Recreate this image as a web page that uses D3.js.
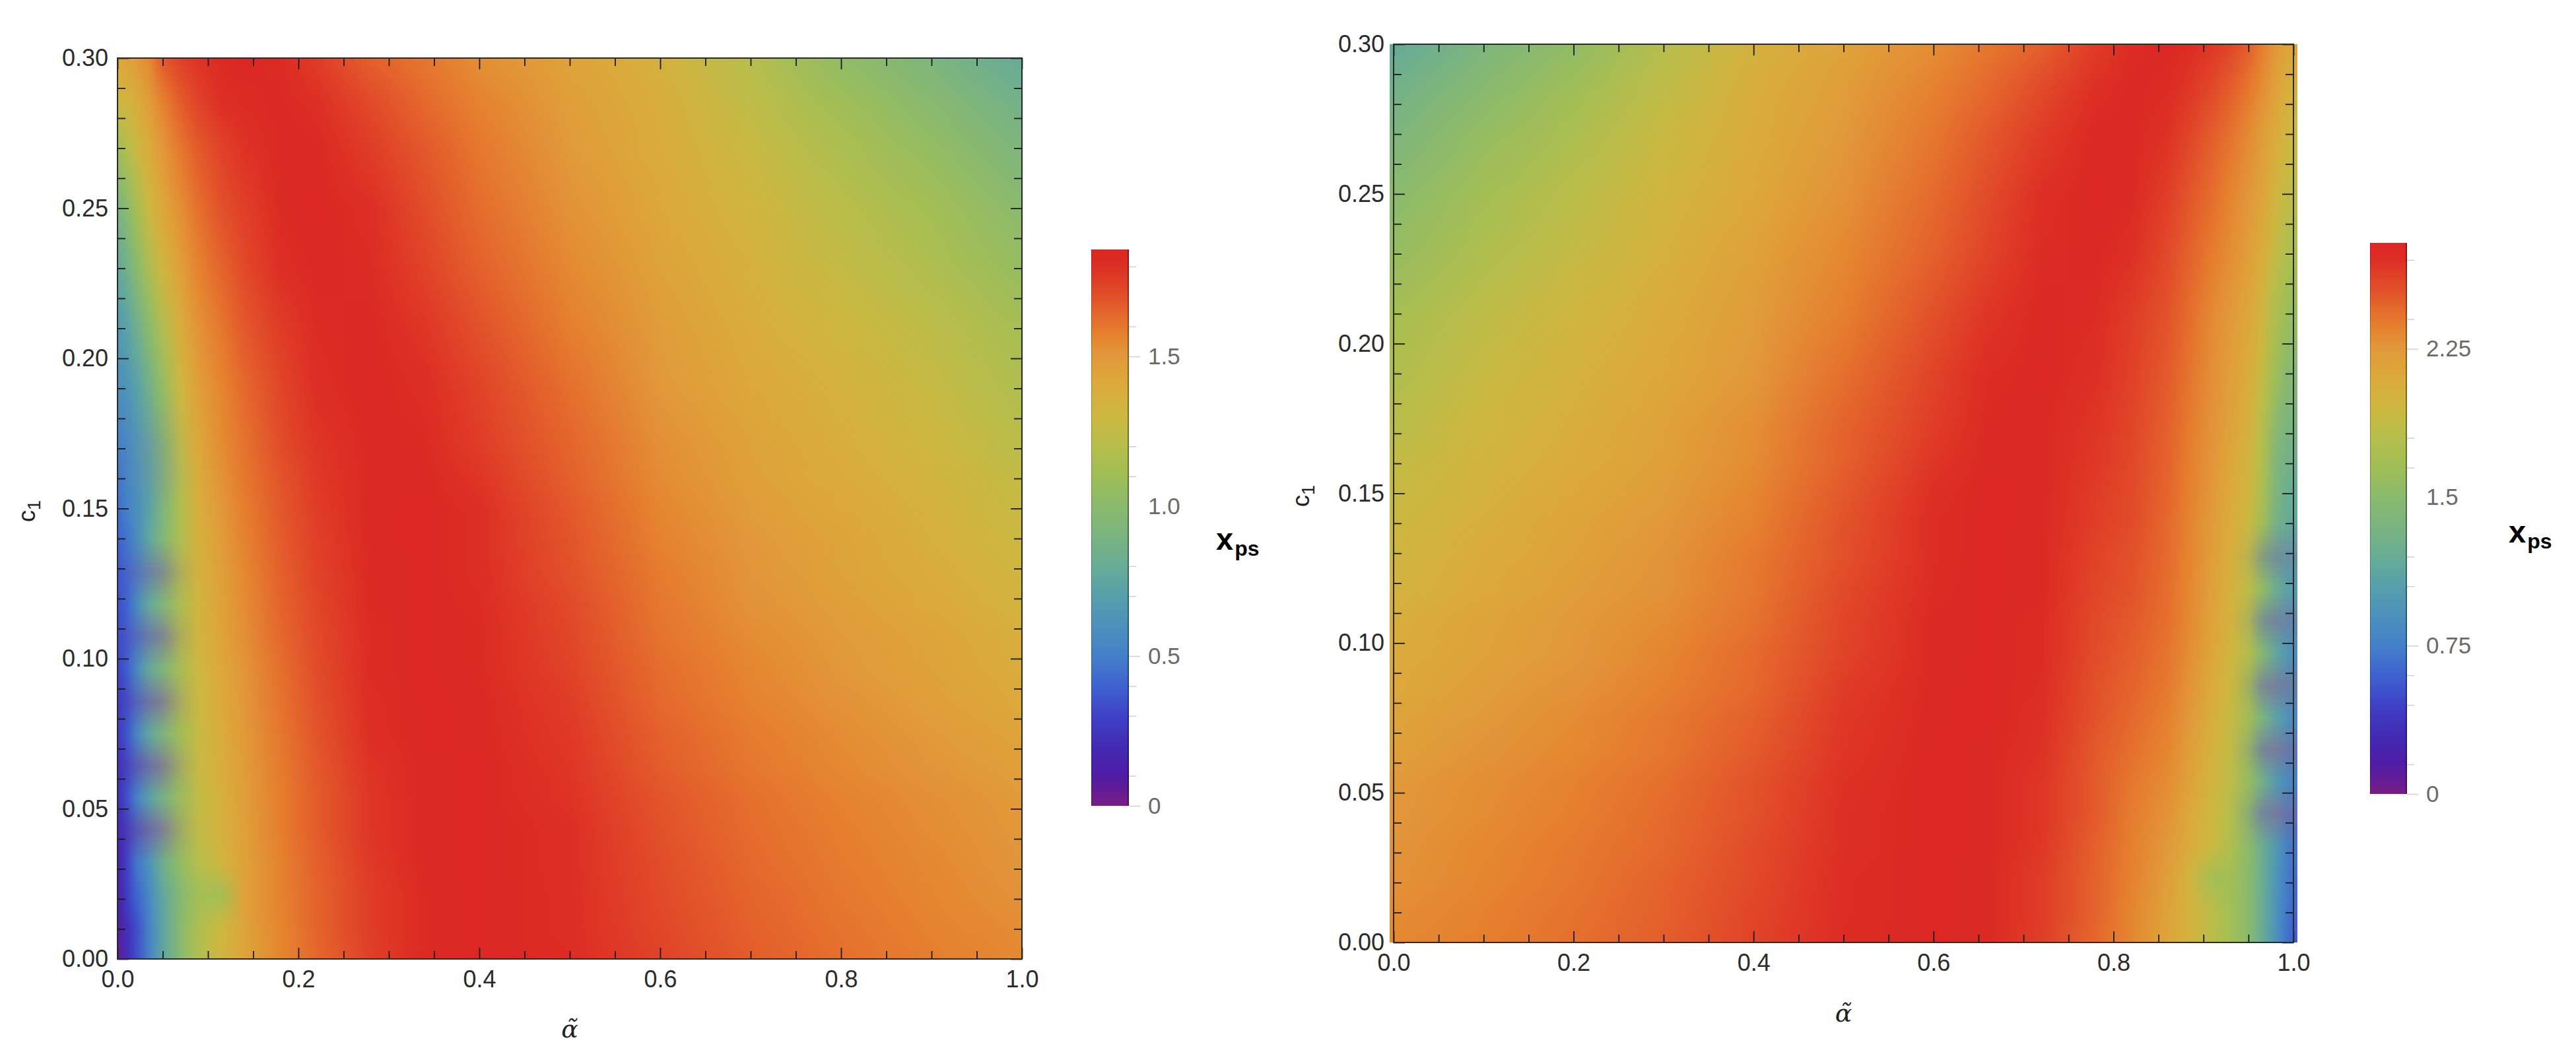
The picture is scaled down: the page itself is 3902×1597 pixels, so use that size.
<!DOCTYPE html>
<html>
<head>
<meta charset="utf-8">
<script src="https://cdnjs.cloudflare.com/ajax/libs/d3/7.8.5/d3.min.js"></script>
<style>
  html, body { margin: 0; padding: 0; background: #fff; }
  svg { display: block; font-family: "Liberation Sans", sans-serif; }
</style>
</head>
<body>
<div id="chart"></div>
<script>
// colour bar: fraction of the range -> colour
const rainbowStops = [0, .054, .10, .16, .215, .27, .34, .38, .43, .48, .54, .595, .645, .70, .76, .81, .84, .88, .915, .97, 1];
const rainbowColors = ['#781c86', '#4e1ca5', '#4428b2', '#3e40c6', '#3f62d0', '#4480c8', '#4f95b8', '#58a0aa', '#68ac96', '#78b382',
  '#8aba6d', '#a0be55', '#b5be4c', '#cdb840', '#dca93a', '#e2973a', '#e5862f', '#e56a2d', '#e2502a', '#dd2e25', '#dc2622'];

const xMajor = [0, .2, .4, .6, .8, 1];
const xMinor = [.05, .1, .15, .25, .3, .35, .45, .5, .55, .65, .7, .75, .85, .9, .95];
const yMajor = [0, .05, .1, .15, .2, .25, .3];
const yMinor = d3.range(1, 30).filter(i => i % 5).map(i => i / 100);

// left panel
const leftMax = 1.857;
const leftBarLabels = [0, .5, 1, 1.5];
const leftBarMinor = [.1, .3, .4, .7, .8, 1.1, 1.2, 1.6, 1.8];
const leftX = [0, .01, .02, .035, .05, .07, .09, .115, .14, .18, .22, .28, .34, .4, .5, .6, .7, .8, .9, 1];
const leftC1 = [0, .0102, .0214, .032, .0431, .0536, .0642, .075, .0856, .0965, .1074, .118, .1285, .14, .15, .161, .171, .19, .21, .23, .25, .27, .285, .3];
const leftValues = [
  [.03, .2, .33, .52, .75, 1, 1.18, 1.32, 1.43, 1.56, 1.64, 1.75, 1.83, 1.85, 1.82, 1.74, 1.67, 1.62, 1.58, 1.55],
  [.08, .22, .32, .52, .74, 1, 1.17, 1.3, 1.44, 1.56, 1.65, 1.76, 1.83, 1.85, 1.81, 1.73, 1.66, 1.61, 1.57, 1.54],
  [.1, .28, .4, .55, .76, .98, 1.12, 1.12, 1.45, 1.57, 1.65, 1.76, 1.83, 1.85, 1.81, 1.72, 1.65, 1.6, 1.56, 1.52],
  [.14, .28, .46, .62, .84, 1.05, 1.2, 1.33, 1.45, 1.57, 1.66, 1.77, 1.84, 1.85, 1.8, 1.71, 1.64, 1.59, 1.55, 1.51],
  [.16, .24, .3, .35, .55, 1.12, 1.25, 1.35, 1.46, 1.58, 1.67, 1.78, 1.84, 1.85, 1.8, 1.7, 1.63, 1.58, 1.54, 1.5],
  [.2, .34, .5, .72, .88, 1.08, 1.25, 1.37, 1.47, 1.58, 1.67, 1.78, 1.84, 1.85, 1.79, 1.69, 1.62, 1.57, 1.53, 1.49],
  [.22, .28, .32, .38, .6, 1.15, 1.28, 1.38, 1.48, 1.59, 1.68, 1.79, 1.84, 1.85, 1.78, 1.67, 1.6, 1.55, 1.51, 1.46],
  [.25, .36, .52, .76, .92, 1.12, 1.27, 1.4, 1.49, 1.6, 1.69, 1.8, 1.85, 1.84, 1.77, 1.66, 1.59, 1.54, 1.49, 1.44],
  [.27, .31, .36, .42, .65, 1.18, 1.3, 1.41, 1.5, 1.61, 1.7, 1.81, 1.85, 1.84, 1.76, 1.64, 1.57, 1.52, 1.47, 1.41],
  [.3, .38, .54, .78, .94, 1.14, 1.3, 1.42, 1.51, 1.62, 1.71, 1.82, 1.85, 1.83, 1.74, 1.63, 1.56, 1.5, 1.45, 1.39],
  [.32, .36, .4, .48, .7, 1.2, 1.33, 1.44, 1.53, 1.64, 1.72, 1.82, 1.85, 1.83, 1.73, 1.61, 1.54, 1.49, 1.44, 1.37],
  [.34, .4, .55, .78, .95, 1.16, 1.33, 1.45, 1.54, 1.65, 1.73, 1.83, 1.85, 1.82, 1.72, 1.6, 1.52, 1.47, 1.41, 1.34],
  [.36, .4, .44, .55, .78, 1.2, 1.35, 1.46, 1.55, 1.66, 1.74, 1.83, 1.85, 1.81, 1.7, 1.59, 1.51, 1.45, 1.39, 1.32],
  [.4, .46, .56, .76, .95, 1.18, 1.36, 1.48, 1.57, 1.67, 1.75, 1.84, 1.85, 1.81, 1.69, 1.57, 1.5, 1.44, 1.37, 1.29],
  [.44, .5, .58, .72, .92, 1.18, 1.38, 1.5, 1.58, 1.68, 1.76, 1.84, 1.85, 1.8, 1.68, 1.56, 1.48, 1.42, 1.35, 1.27],
  [.46, .52, .6, .72, .92, 1.2, 1.4, 1.52, 1.6, 1.69, 1.77, 1.84, 1.84, 1.78, 1.66, 1.54, 1.46, 1.4, 1.33, 1.25],
  [.5, .54, .62, .74, .95, 1.24, 1.42, 1.54, 1.61, 1.71, 1.78, 1.84, 1.83, 1.76, 1.65, 1.53, 1.45, 1.38, 1.31, 1.22],
  [.58, .62, .7, .85, 1.05, 1.3, 1.47, 1.56, 1.64, 1.73, 1.8, 1.85, 1.81, 1.74, 1.62, 1.5, 1.42, 1.35, 1.27, 1.17],
  [.66, .72, .82, 1, 1.18, 1.38, 1.52, 1.6, 1.68, 1.76, 1.82, 1.84, 1.78, 1.7, 1.58, 1.48, 1.39, 1.31, 1.23, 1.13],
  [.76, .85, .98, 1.15, 1.32, 1.46, 1.57, 1.65, 1.72, 1.8, 1.84, 1.82, 1.74, 1.66, 1.55, 1.45, 1.36, 1.26, 1.17, 1.06],
  [.9, 1, 1.12, 1.3, 1.42, 1.53, 1.62, 1.7, 1.75, 1.83, 1.85, 1.8, 1.71, 1.63, 1.52, 1.42, 1.32, 1.22, 1.12, 1],
  [1.1, 1.18, 1.28, 1.4, 1.5, 1.6, 1.68, 1.74, 1.79, 1.84, 1.84, 1.76, 1.68, 1.6, 1.49, 1.4, 1.28, 1.16, 1.05, .92],
  [1.3, 1.32, 1.38, 1.47, 1.57, 1.67, 1.74, 1.8, 1.82, 1.84, 1.8, 1.72, 1.64, 1.57, 1.47, 1.38, 1.24, 1.1, .99, .86],
  [1.42, 1.45, 1.48, 1.55, 1.68, 1.75, 1.79, 1.83, 1.85, 1.82, 1.76, 1.66, 1.6, 1.53, 1.44, 1.35, 1.2, 1.03, .92, .78]
];
// the greyish notches near the edge: how much each row and column goes to grey
const leftNotchRows = [0, 0, 0, 0, 1, 0, 1, 0, 1, 0, .9, 0, .8, 0, 0, .25, .25, 0, 0, 0, 0, 0, 0, 0];
const leftNotchCols = [0, .1, .3, .6, .8, .3, 0, 0, 0, 0, 0, 0, 0, 0, 0, 0, 0, 0, 0, 0];

// right panel
const rightMax = 2.786;
const rightBarLabels = [0, .75, 1.5, 2.25];
const rightBarMinor = [.15, .45, .6, 1.05, 1.2, 1.65, 1.8, 2.4, 2.7];
const rightX = [0, .1, .2, .3, .4, .5, .6, .66, .72, .78, .82, .86, .885, .91, .93, .95, .965, .98, .99, 1];
const rightC1 = [0, .0102, .0214, .032, .0431, .0536, .0642, .075, .0856, .0965, .1074, .118, .1285, .14, .15, .161, .171, .19, .21, .23, .25, .27, .285, .3];
const rightValues = [
  [2.33, 2.37, 2.43, 2.5, 2.61, 2.73, 2.78, 2.75, 2.63, 2.46, 2.34, 2.15, 2.02, 1.83, 1.68, 1.5, 1.2, .92, .72, .58],
  [2.31, 2.36, 2.42, 2.49, 2.6, 2.72, 2.78, 2.75, 2.64, 2.48, 2.34, 2.17, 2.03, 1.84, 1.68, 1.5, 1.22, .94, .75, .62],
  [2.28, 2.34, 2.4, 2.48, 2.58, 2.72, 2.78, 2.75, 2.64, 2.48, 2.36, 2.2, 1.98, 1.68, 1.66, 1.5, 1.24, .96, .78, .66],
  [2.27, 2.33, 2.39, 2.46, 2.57, 2.7, 2.78, 2.76, 2.66, 2.49, 2.37, 2.24, 2.1, 1.93, 1.76, 1.52, 1.24, 1, .82, .7],
  [2.25, 2.31, 2.37, 2.45, 2.55, 2.7, 2.78, 2.76, 2.67, 2.51, 2.38, 2.28, 2.12, 1.95, 1.8, 1.5, .95, .75, .65, .62],
  [2.24, 2.3, 2.36, 2.43, 2.54, 2.69, 2.78, 2.76, 2.67, 2.51, 2.4, 2.31, 2.17, 2, 1.84, 1.6, 1.3, 1.02, .9, .78],
  [2.19, 2.27, 2.33, 2.4, 2.51, 2.67, 2.78, 2.76, 2.69, 2.52, 2.43, 2.34, 2.2, 2.02, 1.88, 1.58, 1, .8, .7, .68],
  [2.16, 2.24, 2.31, 2.39, 2.49, 2.66, 2.76, 2.78, 2.7, 2.54, 2.46, 2.36, 2.24, 2.06, 1.9, 1.68, 1.38, 1.1, .98, .85],
  [2.12, 2.21, 2.28, 2.36, 2.46, 2.64, 2.76, 2.78, 2.72, 2.55, 2.48, 2.39, 2.27, 2.1, 1.95, 1.68, 1.08, .85, .78, .75],
  [2.09, 2.18, 2.25, 2.34, 2.45, 2.61, 2.75, 2.78, 2.73, 2.57, 2.5, 2.41, 2.3, 2.14, 1.98, 1.78, 1.48, 1.15, 1.02, .9],
  [2.06, 2.16, 2.24, 2.31, 2.42, 2.6, 2.75, 2.78, 2.73, 2.58, 2.52, 2.43, 2.32, 2.16, 2.02, 1.8, 1.18, .95, .88, .85],
  [2.01, 2.12, 2.21, 2.28, 2.4, 2.58, 2.73, 2.78, 2.75, 2.6, 2.54, 2.44, 2.33, 2.18, 2.04, 1.84, 1.58, 1.25, 1.12, 1.02],
  [1.98, 2.09, 2.18, 2.27, 2.39, 2.55, 2.72, 2.78, 2.75, 2.61, 2.55, 2.45, 2.34, 2.2, 2.06, 1.88, 1.4, 1.1, 1.02, .98],
  [1.94, 2.06, 2.16, 2.25, 2.36, 2.54, 2.72, 2.78, 2.76, 2.63, 2.57, 2.46, 2.35, 2.22, 2.1, 1.92, 1.68, 1.32, 1.22, 1.15],
  [1.91, 2.03, 2.13, 2.22, 2.34, 2.52, 2.7, 2.78, 2.76, 2.64, 2.58, 2.47, 2.36, 2.25, 2.12, 1.98, 1.75, 1.38, 1.27, 1.2],
  [1.88, 2, 2.1, 2.19, 2.31, 2.49, 2.67, 2.76, 2.76, 2.66, 2.59, 2.48, 2.37, 2.26, 2.14, 2, 1.78, 1.42, 1.32, 1.26],
  [1.83, 1.97, 2.07, 2.18, 2.3, 2.48, 2.64, 2.75, 2.76, 2.67, 2.6, 2.49, 2.38, 2.27, 2.17, 2.03, 1.82, 1.5, 1.38, 1.32],
  [1.76, 1.91, 2.03, 2.13, 2.25, 2.43, 2.61, 2.72, 2.78, 2.7, 2.62, 2.51, 2.41, 2.29, 2.2, 2.1, 1.9, 1.65, 1.52, 1.45],
  [1.7, 1.85, 1.97, 2.09, 2.22, 2.37, 2.55, 2.67, 2.76, 2.73, 2.64, 2.54, 2.44, 2.32, 2.24, 2.14, 1.98, 1.75, 1.65, 1.58],
  [1.59, 1.76, 1.89, 2.04, 2.18, 2.33, 2.49, 2.61, 2.73, 2.76, 2.7, 2.58, 2.48, 2.38, 2.3, 2.2, 2.08, 1.88, 1.78, 1.72],
  [1.5, 1.68, 1.83, 1.98, 2.13, 2.28, 2.45, 2.57, 2.7, 2.78, 2.75, 2.63, 2.53, 2.44, 2.35, 2.26, 2.16, 2, 1.9, 1.85],
  [1.38, 1.58, 1.74, 1.92, 2.1, 2.24, 2.4, 2.52, 2.64, 2.76, 2.76, 2.69, 2.6, 2.5, 2.42, 2.32, 2.22, 2.1, 2, 1.95],
  [1.29, 1.49, 1.65, 1.86, 2.07, 2.21, 2.36, 2.46, 2.58, 2.7, 2.76, 2.73, 2.66, 2.58, 2.5, 2.4, 2.3, 2.18, 2.08, 2.05],
  [1.17, 1.38, 1.55, 1.8, 2.03, 2.16, 2.3, 2.4, 2.49, 2.64, 2.73, 2.78, 2.72, 2.66, 2.6, 2.5, 2.38, 2.25, 2.18, 2.15]
];
const rightNotchRows = [0, 0, 0, 0, 1, 0, 1, 0, 1, 0, .85, 0, .7, 0, 0, 0, 0, 0, 0, 0, 0, 0, 0, 0];
const rightNotchCols = [0, 0, 0, 0, 0, 0, 0, 0, 0, 0, 0, 0, 0, 0, 0, .2, .6, .7, .55, .45];

const width = 3902;
const height = 1597;
const notchGrey = '#8c7a88';

const svg = d3.select('#chart').append('svg')
  .attr('width', width)
  .attr('height', height);
const defs = svg.append('defs');

// paints the value grid into a canvas. colours are worked out on the grid nodes
// and blended between them, same way the notches go grey in the original
const fieldImage = (xs, ys, values, notchRows, notchCols, color, x, y, x0, x1) => {
  const iOf = d3.scaleLinear().domain(xs).range(d3.range(xs.length)).clamp(true);
  const jOf = d3.scaleLinear().domain(ys).range(d3.range(ys.length)).clamp(true);
  const nodes = values.map((row, j) => row.map((v, i) =>
    d3.rgb(d3.interpolateRgb(color(v), notchGrey)(notchRows[j] * notchCols[i]))));

  const [yBottom, yTop] = y.range();
  const w = x1 - x0;
  const h = yBottom - yTop;
  const canvas = document.createElement('canvas');
  canvas.width = w;
  canvas.height = h;
  const ctx = canvas.getContext('2d');
  const img = ctx.createImageData(w, h);
  for (let py = 0; py < h; py++) {
    const jf = jOf(y.invert(yTop + py + .5));
    const j = Math.min(Math.floor(jf), ys.length - 2);
    const tj = jf - j;
    for (let px = 0; px < w; px++) {
      const fi = iOf(x.invert(x0 + px + .5));
      const i = Math.min(Math.floor(fi), xs.length - 2);
      const ti = fi - i;
      const a = nodes[j][i], b = nodes[j][i + 1], c = nodes[j + 1][i], d = nodes[j + 1][i + 1];
      const k = (py * w + px) * 4;
      img.data[k] = (a.r * (1 - ti) + b.r * ti) * (1 - tj) + (c.r * (1 - ti) + d.r * ti) * tj;
      img.data[k + 1] = (a.g * (1 - ti) + b.g * ti) * (1 - tj) + (c.g * (1 - ti) + d.g * ti) * tj;
      img.data[k + 2] = (a.b * (1 - ti) + b.b * ti) * (1 - tj) + (c.b * (1 - ti) + d.b * ti) * tj;
      img.data[k + 3] = 255;
    }
  }
  ctx.putImageData(img, 0, 0);
  // soften the kinks along the grid lines a little
  const out = document.createElement('canvas');
  out.width = w;
  out.height = h;
  const outCtx = out.getContext('2d');
  outCtx.drawImage(canvas, 0, 0);
  outCtx.filter = 'blur(3px)';
  outCtx.drawImage(canvas, 0, 0);
  return out.toDataURL();
};

const styleAxis = (g, fontSize) => {
  g.select('.domain').remove();
  g.selectAll('line').attr('stroke', '#1a1a1a').attr('stroke-width', 1.8);
  g.selectAll('text').attr('font-size', fontSize).attr('fill', '#2b2b2b');
  g.attr('font-family', null);
};

const addAxes = (g, x, y, plot) => {
  const { left, right, top, bottom } = plot;
  const majorLen = 17;
  const minorLen = 12;
  const xFmt = d => d3.format('.1f')(d);
  const yFmt = d => d3.format('.2f')(d);

  g.append('g').attr('transform', `translate(0,${bottom})`)
    .call(d3.axisBottom(x).tickValues(xMajor).tickSizeInner(-majorLen).tickSizeOuter(0).tickPadding(17).tickFormat(xFmt))
    .call(styleAxis, 36);
  g.append('g').attr('transform', `translate(0,${bottom})`)
    .call(d3.axisBottom(x).tickValues(xMinor).tickSizeInner(-minorLen).tickSizeOuter(0).tickFormat(''))
    .call(styleAxis, 36);
  g.append('g').attr('transform', `translate(0,${top})`)
    .call(d3.axisTop(x).tickValues(xMajor).tickSizeInner(-majorLen).tickSizeOuter(0).tickFormat(''))
    .call(styleAxis, 36);
  g.append('g').attr('transform', `translate(0,${top})`)
    .call(d3.axisTop(x).tickValues(xMinor).tickSizeInner(-minorLen).tickSizeOuter(0).tickFormat(''))
    .call(styleAxis, 36);

  g.append('g').attr('transform', `translate(${left},0)`)
    .call(d3.axisLeft(y).tickValues(yMajor).tickSizeInner(-majorLen).tickSizeOuter(0).tickPadding(14).tickFormat(yFmt))
    .call(styleAxis, 36);
  g.append('g').attr('transform', `translate(${left},0)`)
    .call(d3.axisLeft(y).tickValues(yMinor).tickSizeInner(-minorLen).tickSizeOuter(0).tickFormat(''))
    .call(styleAxis, 36);
  g.append('g').attr('transform', `translate(${right},0)`)
    .call(d3.axisRight(y).tickValues(yMajor).tickSizeInner(-majorLen).tickSizeOuter(0).tickFormat(''))
    .call(styleAxis, 36);
  g.append('g').attr('transform', `translate(${right},0)`)
    .call(d3.axisRight(y).tickValues(yMinor).tickSizeInner(-minorLen).tickSizeOuter(0).tickFormat(''))
    .call(styleAxis, 36);

  g.append('rect')
    .attr('x', left).attr('y', top)
    .attr('width', right - left).attr('height', bottom - top)
    .attr('fill', 'none')
    .attr('stroke', '#2a2a2a')
    .attr('stroke-width', 2);
};

const addTitles = (g, plot) => {
  const { left, right, bottom, top, c1X, alphaY } = plot;
  g.append('text')
    .attr('x', (left + right) / 2)
    .attr('y', alphaY)
    .attr('text-anchor', 'middle')
    .attr('font-family', '"DejaVu Serif", serif')
    .attr('font-style', 'italic')
    .attr('font-size', 38)
    .attr('fill', '#222')
    .text('\u03b1\u0303');

  const c1 = g.append('text')
    .attr('transform', `translate(${c1X},${(top + bottom) / 2 + 4}) rotate(-90)`)
    .attr('text-anchor', 'middle')
    .attr('font-size', 36)
    .attr('fill', '#222');
  c1.append('tspan').text('c');
  c1.append('tspan').attr('font-size', 27).attr('dy', 8).text('1');
};

const addColorBar = (g, id, max, labels, minor, bar, color) => {
  const { left, right, top, bottom, titleX, titleY, labelX } = bar;
  const yBar = d3.scaleLinear().domain([0, max]).range([bottom, top]);

  const grad = defs.append('linearGradient')
    .attr('id', id)
    .attr('x1', 0).attr('x2', 0).attr('y1', 1).attr('y2', 0);
  grad.selectAll('stop')
    .data(rainbowStops)
    .enter().append('stop')
      .attr('offset', d => d)
      .attr('stop-color', d => color(d * max));

  g.append('rect')
    .attr('x', left).attr('y', top)
    .attr('width', right - left).attr('height', bottom - top)
    .attr('fill', `url(#${id})`);
  g.append('line')
    .attr('x1', left + .5).attr('x2', left + .5).attr('y1', top).attr('y2', bottom)
    .attr('stroke', '#000').attr('stroke-opacity', .25);
  g.append('line')
    .attr('x1', right - 1).attr('x2', right - 1).attr('y1', top).attr('y2', bottom)
    .attr('stroke', '#000').attr('stroke-opacity', .4).attr('stroke-width', 2);

  const major = g.append('g').attr('transform', `translate(${right},0)`)
    .call(d3.axisRight(yBar).tickValues(labels).tickSizeInner(17).tickSizeOuter(0).tickPadding(labelX - right - 17)
      .tickFormat(d => (d === 0 ? '0' : String(Number.isInteger(d) ? d.toFixed(1) : d))));
  major.select('.domain').remove();
  major.selectAll('line').attr('stroke', '#cfcfcf').attr('stroke-width', 1.5);
  // middle label has no tick in the original
  major.selectAll('.tick').filter((d, i) => i === 2).select('line').remove();
  major.selectAll('text').attr('font-size', 35).attr('fill', '#6a6a6a');

  const minorAxis = g.append('g').attr('transform', `translate(${right},0)`)
    .call(d3.axisRight(yBar).tickValues(minor).tickSizeInner(11).tickSizeOuter(0).tickFormat(''));
  minorAxis.select('.domain').remove();
  minorAxis.selectAll('line').attr('stroke', '#cfcfcf').attr('stroke-width', 1.5);

  const title = g.append('text')
    .attr('x', titleX).attr('y', titleY)
    .attr('font-weight', 'bold')
    .attr('font-size', 47)
    .attr('fill', '#000');
  title.append('tspan').text('x');
  title.append('tspan').attr('font-size', 32).attr('dy', 9).attr('dx', 2).text('ps');
};

const drawPanel = (opts) => {
  const { xs, ys, values, notchRows, notchCols, max, barLabels, barMinor, plot, bar, id } = opts;
  const color = d3.scaleLinear()
    .domain(rainbowStops.map(s => s * max))
    .range(rainbowColors)
    .clamp(true);
  const x = d3.scaleLinear().domain([0, 1]).range([plot.left, plot.right]);
  const y = d3.scaleLinear().domain([0, .3]).range([plot.bottom, plot.top]);
  const g = svg.append('g');

  const x0 = plot.left - plot.spill;
  const x1 = plot.right + plot.spill;
  g.append('image')
    .attr('x', x0).attr('y', plot.top)
    .attr('width', x1 - x0).attr('height', plot.bottom - plot.top)
    .attr('href', fieldImage(xs, ys, values, notchRows, notchCols, color, x, y, x0, x1));

  addAxes(g, x, y, plot);
  addTitles(g, plot);
  addColorBar(g, id, max, barLabels, barMinor, bar, color);
};

drawPanel({
  id: 'bar-left',
  xs: leftX, ys: leftC1, values: leftValues,
  notchRows: leftNotchRows, notchCols: leftNotchCols,
  max: leftMax, barLabels: leftBarLabels, barMinor: leftBarMinor,
  plot: { left: 178, right: 1548, top: 88, bottom: 1453, spill: 0, c1X: 53, alphaY: 1572 },
  bar: { left: 1653, right: 1710, top: 378, bottom: 1221, labelX: 1739, titleX: 1842, titleY: 833 }
});

drawPanel({
  id: 'bar-right',
  xs: rightX, ys: rightC1, values: rightValues,
  notchRows: rightNotchRows, notchCols: rightNotchCols,
  max: rightMax, barLabels: rightBarLabels, barMinor: rightBarMinor,
  plot: { left: 2111, right: 3474, top: 67, bottom: 1428, spill: 6, c1X: 1983, alphaY: 1548 },
  bar: { left: 3590, right: 3646, top: 368, bottom: 1203, labelX: 3675, titleX: 3800, titleY: 822 }
});
</script>
</body>
</html>
